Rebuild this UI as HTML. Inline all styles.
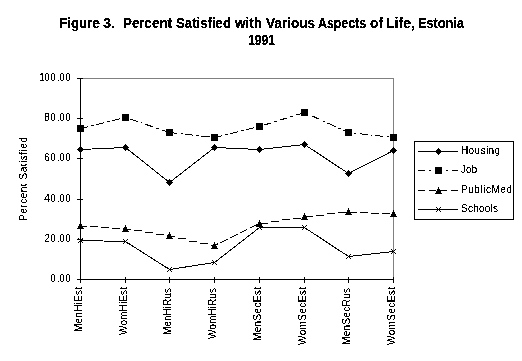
<!DOCTYPE html>
<html><head><meta charset="utf-8"><style>
html,body{margin:0;padding:0;background:#fff;}
svg{display:block;}
.t{font-family:"Liberation Sans",sans-serif;font-size:10px;fill:#000;text-rendering:auto;}
.r{text-rendering:auto;}
.title{font-family:"Liberation Sans",sans-serif;font-size:14.0px;font-weight:bold;fill:#000;white-space:pre;}
</style></head><body>
<svg width="522" height="361" viewBox="0 0 522 361" shape-rendering="crispEdges">
<defs>
<filter id="crisp" x="0" y="0" width="522" height="361" filterUnits="userSpaceOnUse"><feComponentTransfer><feFuncA type="discrete" tableValues="0 0 1 1 1"/></feComponentTransfer></filter>
<filter id="crispb" x="0" y="0" width="522" height="361" filterUnits="userSpaceOnUse"><feComponentTransfer><feFuncA type="discrete" tableValues="0 1 1"/></feComponentTransfer></filter>
<filter id="crispr" x="0" y="0" width="522" height="361" filterUnits="userSpaceOnUse"><feComponentTransfer><feFuncA type="discrete" tableValues="0 0 1 1 1"/></feComponentTransfer></filter>
</defs>
<rect width="522" height="361" fill="#fff"/>
<rect x="80" y="78" width="314" height="1" fill="#808080"/>
<rect x="393" y="78" width="1" height="202" fill="#808080"/>
<rect x="80" y="78" width="1" height="202" fill="#000"/>
<rect x="80" y="279" width="314" height="1" fill="#000"/>
<rect x="77" y="279" width="6" height="1" fill="#000"/>
<rect x="77" y="239" width="6" height="1" fill="#000"/>
<rect x="77" y="199" width="6" height="1" fill="#000"/>
<rect x="77" y="158" width="6" height="1" fill="#000"/>
<rect x="77" y="118" width="6" height="1" fill="#000"/>
<rect x="77" y="78" width="6" height="1" fill="#000"/>
<rect x="80" y="277" width="1" height="6" fill="#000"/>
<rect x="125" y="277" width="1" height="6" fill="#000"/>
<rect x="169" y="277" width="1" height="6" fill="#000"/>
<rect x="214" y="277" width="1" height="6" fill="#000"/>
<rect x="259" y="277" width="1" height="6" fill="#000"/>
<rect x="304" y="277" width="1" height="6" fill="#000"/>
<rect x="348" y="277" width="1" height="6" fill="#000"/>
<rect x="393" y="277" width="1" height="6" fill="#000"/>
<polyline points="80.5,149.5 125.5,147.5 169.5,182.5 214.5,147.5 259.5,149.5 304.5,144.5 348.5,173.5 393.5,150.5" fill="none" stroke="#000" stroke-width="1"/>
<line x1="80.5" y1="128.5" x2="125.5" y2="117.5" stroke="#000" stroke-width="1" stroke-dasharray="8.2355 3.0883 2.0589 3.0883" stroke-dashoffset="0.0000"/>
<line x1="125.5" y1="117.5" x2="169.5" y2="132.5" stroke="#000" stroke-width="1" stroke-dasharray="8.4521 3.1695 2.1130 3.1695" stroke-dashoffset="12.6782"/>
<line x1="169.5" y1="132.5" x2="214.5" y2="137.5" stroke="#000" stroke-width="1" stroke-dasharray="8.0492 3.0185 2.0123 3.0185" stroke-dashoffset="0.0000"/>
<line x1="214.5" y1="137.5" x2="259.5" y2="126.5" stroke="#000" stroke-width="1" stroke-dasharray="8.2355 3.0883 2.0589 3.0883" stroke-dashoffset="0.0000"/>
<line x1="259.5" y1="126.5" x2="304.5" y2="112.5" stroke="#000" stroke-width="1" stroke-dasharray="8.3782 3.1418 2.0946 3.1418" stroke-dashoffset="12.5673"/>
<line x1="304.5" y1="112.5" x2="348.5" y2="132.5" stroke="#000" stroke-width="1" stroke-dasharray="8.7877 3.2954 2.1969 3.2954" stroke-dashoffset="9.8861"/>
<line x1="348.5" y1="132.5" x2="393.5" y2="137.5" stroke="#000" stroke-width="1" stroke-dasharray="8.0492 3.0185 2.0123 3.0185" stroke-dashoffset="5.0308"/>
<rect x="80" y="226" width="7" height="1" fill="#000"/>
<rect x="90" y="226" width="8" height="1" fill="#000"/>
<rect x="101" y="227" width="8" height="1" fill="#000"/>
<rect x="112" y="228" width="8" height="1" fill="#000"/>
<rect x="123" y="228" width="2" height="1" fill="#000"/>
<rect x="125" y="229" width="6" height="1" fill="#000"/>
<rect x="134" y="230" width="8" height="1" fill="#000"/>
<rect x="145" y="232" width="8" height="1" fill="#000"/>
<rect x="156" y="234" width="8" height="1" fill="#000"/>
<rect x="167" y="235" width="2" height="1" fill="#000"/>
<rect x="169" y="236" width="6" height="1" fill="#000"/>
<rect x="178" y="238" width="8" height="1" fill="#000"/>
<rect x="189" y="241" width="8" height="1" fill="#000"/>
<rect x="200" y="243" width="8" height="1" fill="#000"/>
<rect x="211" y="245" width="3" height="1" fill="#000"/>
<line x1="214.5" y1="245.5" x2="259.5" y2="223.5" stroke="#000" stroke-width="1" stroke-dasharray="8.0000 3.0000" stroke-dashoffset="4.3213"/>
<rect x="260" y="223" width="8" height="1" fill="#000"/>
<rect x="271" y="221" width="8" height="1" fill="#000"/>
<rect x="282" y="219" width="8" height="1" fill="#000"/>
<rect x="293" y="218" width="8" height="1" fill="#000"/>
<rect x="305" y="216" width="8" height="1" fill="#000"/>
<rect x="316" y="215" width="8" height="1" fill="#000"/>
<rect x="327" y="213" width="8" height="1" fill="#000"/>
<rect x="338" y="212" width="8" height="1" fill="#000"/>
<rect x="349" y="212" width="8" height="1" fill="#000"/>
<rect x="360" y="212" width="8" height="1" fill="#000"/>
<rect x="371" y="213" width="8" height="1" fill="#000"/>
<rect x="382" y="213" width="8" height="1" fill="#000"/>
<polyline points="80.5,240.5 125.5,241.5 169.5,269.5 214.5,262.5 259.5,227.5 304.5,227.5 348.5,256.5 393.5,251.5" fill="none" stroke="#000" stroke-width="1"/>
<rect x="80" y="146" width="1" height="1" fill="#000"/>
<rect x="79" y="147" width="3" height="1" fill="#000"/>
<rect x="78" y="148" width="5" height="1" fill="#000"/>
<rect x="77" y="149" width="7" height="1" fill="#000"/>
<rect x="78" y="150" width="5" height="1" fill="#000"/>
<rect x="79" y="151" width="3" height="1" fill="#000"/>
<rect x="80" y="152" width="1" height="1" fill="#000"/>
<rect x="125" y="144" width="1" height="1" fill="#000"/>
<rect x="124" y="145" width="3" height="1" fill="#000"/>
<rect x="123" y="146" width="5" height="1" fill="#000"/>
<rect x="122" y="147" width="7" height="1" fill="#000"/>
<rect x="123" y="148" width="5" height="1" fill="#000"/>
<rect x="124" y="149" width="3" height="1" fill="#000"/>
<rect x="125" y="150" width="1" height="1" fill="#000"/>
<rect x="169" y="179" width="1" height="1" fill="#000"/>
<rect x="168" y="180" width="3" height="1" fill="#000"/>
<rect x="167" y="181" width="5" height="1" fill="#000"/>
<rect x="166" y="182" width="7" height="1" fill="#000"/>
<rect x="167" y="183" width="5" height="1" fill="#000"/>
<rect x="168" y="184" width="3" height="1" fill="#000"/>
<rect x="169" y="185" width="1" height="1" fill="#000"/>
<rect x="214" y="144" width="1" height="1" fill="#000"/>
<rect x="213" y="145" width="3" height="1" fill="#000"/>
<rect x="212" y="146" width="5" height="1" fill="#000"/>
<rect x="211" y="147" width="7" height="1" fill="#000"/>
<rect x="212" y="148" width="5" height="1" fill="#000"/>
<rect x="213" y="149" width="3" height="1" fill="#000"/>
<rect x="214" y="150" width="1" height="1" fill="#000"/>
<rect x="259" y="146" width="1" height="1" fill="#000"/>
<rect x="258" y="147" width="3" height="1" fill="#000"/>
<rect x="257" y="148" width="5" height="1" fill="#000"/>
<rect x="256" y="149" width="7" height="1" fill="#000"/>
<rect x="257" y="150" width="5" height="1" fill="#000"/>
<rect x="258" y="151" width="3" height="1" fill="#000"/>
<rect x="259" y="152" width="1" height="1" fill="#000"/>
<rect x="304" y="141" width="1" height="1" fill="#000"/>
<rect x="303" y="142" width="3" height="1" fill="#000"/>
<rect x="302" y="143" width="5" height="1" fill="#000"/>
<rect x="301" y="144" width="7" height="1" fill="#000"/>
<rect x="302" y="145" width="5" height="1" fill="#000"/>
<rect x="303" y="146" width="3" height="1" fill="#000"/>
<rect x="304" y="147" width="1" height="1" fill="#000"/>
<rect x="348" y="170" width="1" height="1" fill="#000"/>
<rect x="347" y="171" width="3" height="1" fill="#000"/>
<rect x="346" y="172" width="5" height="1" fill="#000"/>
<rect x="345" y="173" width="7" height="1" fill="#000"/>
<rect x="346" y="174" width="5" height="1" fill="#000"/>
<rect x="347" y="175" width="3" height="1" fill="#000"/>
<rect x="348" y="176" width="1" height="1" fill="#000"/>
<rect x="393" y="147" width="1" height="1" fill="#000"/>
<rect x="392" y="148" width="3" height="1" fill="#000"/>
<rect x="391" y="149" width="5" height="1" fill="#000"/>
<rect x="390" y="150" width="7" height="1" fill="#000"/>
<rect x="391" y="151" width="5" height="1" fill="#000"/>
<rect x="392" y="152" width="3" height="1" fill="#000"/>
<rect x="393" y="153" width="1" height="1" fill="#000"/>
<rect x="77" y="125" width="7" height="7" fill="#000"/>
<rect x="122" y="114" width="7" height="7" fill="#000"/>
<rect x="166" y="129" width="7" height="7" fill="#000"/>
<rect x="211" y="134" width="7" height="7" fill="#000"/>
<rect x="256" y="123" width="7" height="7" fill="#000"/>
<rect x="301" y="109" width="7" height="7" fill="#000"/>
<rect x="345" y="129" width="7" height="7" fill="#000"/>
<rect x="390" y="134" width="7" height="7" fill="#000"/>
<rect x="80" y="222" width="1" height="1" fill="#000"/>
<rect x="80" y="223" width="1" height="1" fill="#000"/>
<rect x="79" y="224" width="3" height="1" fill="#000"/>
<rect x="79" y="225" width="3" height="1" fill="#000"/>
<rect x="78" y="226" width="5" height="1" fill="#000"/>
<rect x="78" y="227" width="5" height="1" fill="#000"/>
<rect x="77" y="228" width="7" height="1" fill="#000"/>
<rect x="125" y="225" width="1" height="1" fill="#000"/>
<rect x="125" y="226" width="1" height="1" fill="#000"/>
<rect x="124" y="227" width="3" height="1" fill="#000"/>
<rect x="124" y="228" width="3" height="1" fill="#000"/>
<rect x="123" y="229" width="5" height="1" fill="#000"/>
<rect x="123" y="230" width="5" height="1" fill="#000"/>
<rect x="122" y="231" width="7" height="1" fill="#000"/>
<rect x="169" y="232" width="1" height="1" fill="#000"/>
<rect x="169" y="233" width="1" height="1" fill="#000"/>
<rect x="168" y="234" width="3" height="1" fill="#000"/>
<rect x="168" y="235" width="3" height="1" fill="#000"/>
<rect x="167" y="236" width="5" height="1" fill="#000"/>
<rect x="167" y="237" width="5" height="1" fill="#000"/>
<rect x="166" y="238" width="7" height="1" fill="#000"/>
<rect x="214" y="242" width="1" height="1" fill="#000"/>
<rect x="214" y="243" width="1" height="1" fill="#000"/>
<rect x="213" y="244" width="3" height="1" fill="#000"/>
<rect x="213" y="245" width="3" height="1" fill="#000"/>
<rect x="212" y="246" width="5" height="1" fill="#000"/>
<rect x="212" y="247" width="5" height="1" fill="#000"/>
<rect x="211" y="248" width="7" height="1" fill="#000"/>
<rect x="259" y="220" width="1" height="1" fill="#000"/>
<rect x="259" y="221" width="1" height="1" fill="#000"/>
<rect x="258" y="222" width="3" height="1" fill="#000"/>
<rect x="258" y="223" width="3" height="1" fill="#000"/>
<rect x="257" y="224" width="5" height="1" fill="#000"/>
<rect x="257" y="225" width="5" height="1" fill="#000"/>
<rect x="256" y="226" width="7" height="1" fill="#000"/>
<rect x="304" y="213" width="1" height="1" fill="#000"/>
<rect x="304" y="214" width="1" height="1" fill="#000"/>
<rect x="303" y="215" width="3" height="1" fill="#000"/>
<rect x="303" y="216" width="3" height="1" fill="#000"/>
<rect x="302" y="217" width="5" height="1" fill="#000"/>
<rect x="302" y="218" width="5" height="1" fill="#000"/>
<rect x="301" y="219" width="7" height="1" fill="#000"/>
<rect x="348" y="208" width="1" height="1" fill="#000"/>
<rect x="348" y="209" width="1" height="1" fill="#000"/>
<rect x="347" y="210" width="3" height="1" fill="#000"/>
<rect x="347" y="211" width="3" height="1" fill="#000"/>
<rect x="346" y="212" width="5" height="1" fill="#000"/>
<rect x="346" y="213" width="5" height="1" fill="#000"/>
<rect x="345" y="214" width="7" height="1" fill="#000"/>
<rect x="393" y="210" width="1" height="1" fill="#000"/>
<rect x="393" y="211" width="1" height="1" fill="#000"/>
<rect x="392" y="212" width="3" height="1" fill="#000"/>
<rect x="392" y="213" width="3" height="1" fill="#000"/>
<rect x="391" y="214" width="5" height="1" fill="#000"/>
<rect x="391" y="215" width="5" height="1" fill="#000"/>
<rect x="390" y="216" width="7" height="1" fill="#000"/>
<rect x="78" y="238" width="1" height="1" fill="#000"/>
<rect x="78" y="242" width="1" height="1" fill="#000"/>
<rect x="79" y="239" width="1" height="1" fill="#000"/>
<rect x="79" y="241" width="1" height="1" fill="#000"/>
<rect x="80" y="240" width="1" height="1" fill="#000"/>
<rect x="80" y="240" width="1" height="1" fill="#000"/>
<rect x="81" y="241" width="1" height="1" fill="#000"/>
<rect x="81" y="239" width="1" height="1" fill="#000"/>
<rect x="82" y="242" width="1" height="1" fill="#000"/>
<rect x="82" y="238" width="1" height="1" fill="#000"/>
<rect x="123" y="239" width="1" height="1" fill="#000"/>
<rect x="123" y="243" width="1" height="1" fill="#000"/>
<rect x="124" y="240" width="1" height="1" fill="#000"/>
<rect x="124" y="242" width="1" height="1" fill="#000"/>
<rect x="125" y="241" width="1" height="1" fill="#000"/>
<rect x="125" y="241" width="1" height="1" fill="#000"/>
<rect x="126" y="242" width="1" height="1" fill="#000"/>
<rect x="126" y="240" width="1" height="1" fill="#000"/>
<rect x="127" y="243" width="1" height="1" fill="#000"/>
<rect x="127" y="239" width="1" height="1" fill="#000"/>
<rect x="167" y="267" width="1" height="1" fill="#000"/>
<rect x="167" y="271" width="1" height="1" fill="#000"/>
<rect x="168" y="268" width="1" height="1" fill="#000"/>
<rect x="168" y="270" width="1" height="1" fill="#000"/>
<rect x="169" y="269" width="1" height="1" fill="#000"/>
<rect x="169" y="269" width="1" height="1" fill="#000"/>
<rect x="170" y="270" width="1" height="1" fill="#000"/>
<rect x="170" y="268" width="1" height="1" fill="#000"/>
<rect x="171" y="271" width="1" height="1" fill="#000"/>
<rect x="171" y="267" width="1" height="1" fill="#000"/>
<rect x="212" y="260" width="1" height="1" fill="#000"/>
<rect x="212" y="264" width="1" height="1" fill="#000"/>
<rect x="213" y="261" width="1" height="1" fill="#000"/>
<rect x="213" y="263" width="1" height="1" fill="#000"/>
<rect x="214" y="262" width="1" height="1" fill="#000"/>
<rect x="214" y="262" width="1" height="1" fill="#000"/>
<rect x="215" y="263" width="1" height="1" fill="#000"/>
<rect x="215" y="261" width="1" height="1" fill="#000"/>
<rect x="216" y="264" width="1" height="1" fill="#000"/>
<rect x="216" y="260" width="1" height="1" fill="#000"/>
<rect x="257" y="225" width="1" height="1" fill="#000"/>
<rect x="257" y="229" width="1" height="1" fill="#000"/>
<rect x="258" y="226" width="1" height="1" fill="#000"/>
<rect x="258" y="228" width="1" height="1" fill="#000"/>
<rect x="259" y="227" width="1" height="1" fill="#000"/>
<rect x="259" y="227" width="1" height="1" fill="#000"/>
<rect x="260" y="228" width="1" height="1" fill="#000"/>
<rect x="260" y="226" width="1" height="1" fill="#000"/>
<rect x="261" y="229" width="1" height="1" fill="#000"/>
<rect x="261" y="225" width="1" height="1" fill="#000"/>
<rect x="302" y="225" width="1" height="1" fill="#000"/>
<rect x="302" y="229" width="1" height="1" fill="#000"/>
<rect x="303" y="226" width="1" height="1" fill="#000"/>
<rect x="303" y="228" width="1" height="1" fill="#000"/>
<rect x="304" y="227" width="1" height="1" fill="#000"/>
<rect x="304" y="227" width="1" height="1" fill="#000"/>
<rect x="305" y="228" width="1" height="1" fill="#000"/>
<rect x="305" y="226" width="1" height="1" fill="#000"/>
<rect x="306" y="229" width="1" height="1" fill="#000"/>
<rect x="306" y="225" width="1" height="1" fill="#000"/>
<rect x="346" y="254" width="1" height="1" fill="#000"/>
<rect x="346" y="258" width="1" height="1" fill="#000"/>
<rect x="347" y="255" width="1" height="1" fill="#000"/>
<rect x="347" y="257" width="1" height="1" fill="#000"/>
<rect x="348" y="256" width="1" height="1" fill="#000"/>
<rect x="348" y="256" width="1" height="1" fill="#000"/>
<rect x="349" y="257" width="1" height="1" fill="#000"/>
<rect x="349" y="255" width="1" height="1" fill="#000"/>
<rect x="350" y="258" width="1" height="1" fill="#000"/>
<rect x="350" y="254" width="1" height="1" fill="#000"/>
<rect x="391" y="249" width="1" height="1" fill="#000"/>
<rect x="391" y="253" width="1" height="1" fill="#000"/>
<rect x="392" y="250" width="1" height="1" fill="#000"/>
<rect x="392" y="252" width="1" height="1" fill="#000"/>
<rect x="393" y="251" width="1" height="1" fill="#000"/>
<rect x="393" y="251" width="1" height="1" fill="#000"/>
<rect x="394" y="252" width="1" height="1" fill="#000"/>
<rect x="394" y="250" width="1" height="1" fill="#000"/>
<rect x="395" y="253" width="1" height="1" fill="#000"/>
<rect x="395" y="249" width="1" height="1" fill="#000"/>
<rect x="414" y="141" width="100" height="1" fill="#000"/>
<rect x="414" y="219" width="100" height="1" fill="#000"/>
<rect x="414" y="141" width="1" height="79" fill="#000"/>
<rect x="513" y="141" width="1" height="79" fill="#000"/>
<line x1="418" y1="151.5" x2="458" y2="151.5" stroke="#000" stroke-width="1"/>
<rect x="438" y="148" width="1" height="1" fill="#000"/>
<rect x="437" y="149" width="3" height="1" fill="#000"/>
<rect x="436" y="150" width="5" height="1" fill="#000"/>
<rect x="435" y="151" width="7" height="1" fill="#000"/>
<rect x="436" y="152" width="5" height="1" fill="#000"/>
<rect x="437" y="153" width="3" height="1" fill="#000"/>
<rect x="438" y="154" width="1" height="1" fill="#000"/>
<line x1="418" y1="170.5" x2="458" y2="170.5" stroke="#000" stroke-width="1" stroke-dasharray="7 4 2 4"/>
<rect x="435" y="167" width="7" height="7" fill="#000"/>
<line x1="418" y1="190.5" x2="458" y2="190.5" stroke="#000" stroke-width="1" stroke-dasharray="7 4"/>
<rect x="438" y="187" width="1" height="1" fill="#000"/>
<rect x="438" y="188" width="1" height="1" fill="#000"/>
<rect x="437" y="189" width="3" height="1" fill="#000"/>
<rect x="437" y="190" width="3" height="1" fill="#000"/>
<rect x="436" y="191" width="5" height="1" fill="#000"/>
<rect x="436" y="192" width="5" height="1" fill="#000"/>
<rect x="435" y="193" width="7" height="1" fill="#000"/>
<line x1="418" y1="209.5" x2="458" y2="209.5" stroke="#000" stroke-width="1"/>
<rect x="436" y="207" width="1" height="1" fill="#000"/>
<rect x="436" y="211" width="1" height="1" fill="#000"/>
<rect x="437" y="208" width="1" height="1" fill="#000"/>
<rect x="437" y="210" width="1" height="1" fill="#000"/>
<rect x="438" y="209" width="1" height="1" fill="#000"/>
<rect x="438" y="209" width="1" height="1" fill="#000"/>
<rect x="439" y="210" width="1" height="1" fill="#000"/>
<rect x="439" y="208" width="1" height="1" fill="#000"/>
<rect x="440" y="211" width="1" height="1" fill="#000"/>
<rect x="440" y="207" width="1" height="1" fill="#000"/>
<g filter="url(#crisp)">
<text x="50.25 57.25 59.25 65.25" y="282" class="t">0.00</text>
<text x="44.25 50.25 57.25 59.25 65.25" y="242" class="t">20.00</text>
<text x="44.25 50.25 57.25 59.25 65.25" y="202" class="t">40.00</text>
<text x="44.25 50.25 57.25 59.25 65.25" y="161" class="t">60.00</text>
<text x="44.25 50.25 57.25 59.25 65.25" y="121" class="t">80.00</text>
<text x="39.25 44.25 50.25 57.25 59.25 65.25" y="81" class="t">100.00</text>
<text x="461" y="154" textLength="39" lengthAdjust="spacing" class="t">Housing</text>
<text x="461" y="173" textLength="16" lengthAdjust="spacing" class="t">Job</text>
<text x="461" y="193" textLength="51" lengthAdjust="spacing" class="t">PublicMed</text>
<text x="461" y="212" textLength="37" lengthAdjust="spacing" class="t">Schools</text>
</g>
<g filter="url(#crispr)">
<text transform="translate(82,332) rotate(-90)" textLength="45" lengthAdjust="spacing" class="t r">MenHiEst</text>
<text transform="translate(127,335) rotate(-90)" textLength="48" lengthAdjust="spacing" class="t r">WomHiEst</text>
<text transform="translate(171,335) rotate(-90)" textLength="47" lengthAdjust="spacing" class="t r">MenHiRus</text>
<text transform="translate(216,339) rotate(-90)" textLength="51" lengthAdjust="spacing" class="t r">WomHiRus</text>
<text transform="translate(261,341) rotate(-90)" textLength="54" lengthAdjust="spacing" class="t r">MenSecEst</text>
<text transform="translate(306,345) rotate(-90)" textLength="58" lengthAdjust="spacing" class="t r">WomSecEst</text>
<text transform="translate(350,345) rotate(-90)" textLength="57" lengthAdjust="spacing" class="t r">MenSecRus</text>
<text transform="translate(395,345) rotate(-90)" textLength="58" lengthAdjust="spacing" class="t r">WomSecEst</text>
<text transform="translate(27,221) rotate(-90)" textLength="84" lengthAdjust="spacing" class="t r">Percent Satisfied</text>
</g>
<g filter="url(#crispb)">
<text y="28" class="title"><tspan x="59.0" textLength="41.0" lengthAdjust="spacingAndGlyphs">Figure</tspan> <tspan x="103.0" textLength="12.0" lengthAdjust="spacingAndGlyphs">3.</tspan>  <tspan x="123.0" textLength="49.0" lengthAdjust="spacingAndGlyphs">Percent</tspan> <tspan x="176.0" textLength="55.0" lengthAdjust="spacingAndGlyphs">Satisfied</tspan> <tspan x="235.0" textLength="27.0" lengthAdjust="spacingAndGlyphs">with</tspan> <tspan x="266.0" textLength="49.0" lengthAdjust="spacingAndGlyphs">Various</tspan> <tspan x="318.0" textLength="48.0" lengthAdjust="spacingAndGlyphs">Aspects</tspan> <tspan x="370.0" textLength="13.0" lengthAdjust="spacingAndGlyphs">of</tspan> <tspan x="386.0" textLength="29.0" lengthAdjust="spacingAndGlyphs">Life,</tspan> <tspan x="418.0" textLength="46.0" lengthAdjust="spacingAndGlyphs">Estonia</tspan></text>
<text x="248" y="45" textLength="27" lengthAdjust="spacingAndGlyphs" class="title">1991</text>
</g>
</svg>
</body></html>
